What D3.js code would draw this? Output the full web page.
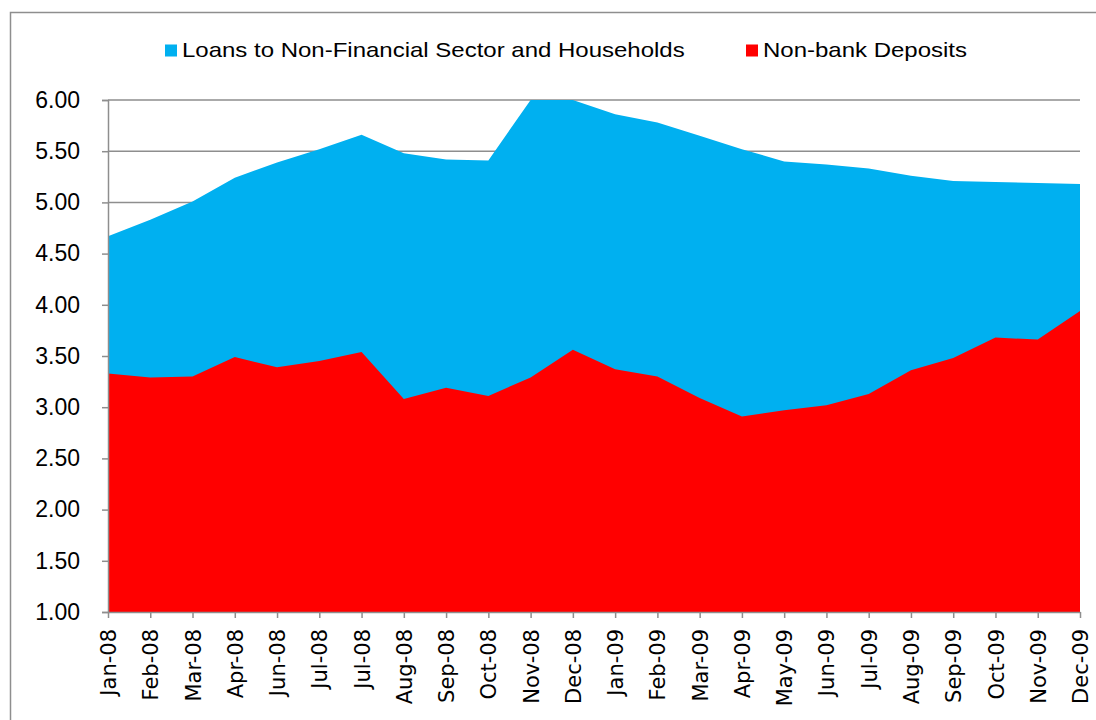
<!DOCTYPE html>
<html>
<head>
<meta charset="utf-8">
<script src="https://cdn.jsdelivr.net/npm/d3@7"></script>
<style>
  body { margin: 0; background: #fff; }
  svg { display: block; }
</style>
</head>
<body>
<svg id="chart" width="1096" height="720"></svg>
<script>
// month labels (Jul-08 really shows up twice on the original)
const months = ["Jan-08", "Feb-08", "Mar-08", "Apr-08", "Jun-08", "Jul-08", "Jul-08", "Aug-08",
    "Sep-08", "Oct-08", "Nov-08", "Dec-08", "Jan-09", "Feb-09", "Mar-09", "Apr-09",
    "May-09", "Jun-09", "Jul-09", "Aug-09", "Sep-09", "Oct-09", "Nov-09", "Dec-09"];
const loans = [4.67, 4.83, 5.01, 5.24, 5.39, 5.52, 5.66, 5.48, 5.42, 5.41, 6.00, 6.00,
    5.86, 5.78, 5.65, 5.52, 5.40, 5.37, 5.33, 5.26, 5.21, 5.20, 5.19, 5.18];
const deposits = [3.33, 3.29, 3.30, 3.49, 3.39, 3.45, 3.54, 3.08, 3.19, 3.11, 3.29, 3.56,
    3.37, 3.30, 3.09, 2.91, 2.97, 3.02, 3.13, 3.36, 3.48, 3.68, 3.66, 3.94];
const yTicks = [1, 1.5, 2, 2.5, 3, 3.5, 4, 4.5, 5, 5.5, 6];
const seriesNames = ["Loans to Non-Financial Sector and Households", "Non-bank Deposits"];
const seriesColors = ["#00B0F0", "#FF0000"];

const svg = d3.select("#chart");
const plotLeft = 108, plotRight = 1080, plotTop = 100, plotBottom = 612;
const gray = "#8e8e8e";

// outer chart frame, runs off the right/bottom of the picture
svg.append("rect")
    .attr("x", 10.5).attr("y", 12.5)
    .attr("width", 1100).attr("height", 720)
    .attr("fill", "none")
    .attr("stroke", gray)
    .attr("stroke-width", 1.5);

const x = d3.scalePoint()
    .domain(d3.range(months.length))
    .range([plotLeft, plotRight]);

const y = d3.scaleLinear()
    .domain([1, 6])
    .range([plotBottom, plotTop]);

// gridlines behind the areas
svg.append("g")
    .selectAll("line")
    .data(yTicks.slice(1))
    .join("line")
    .attr("x1", plotLeft).attr("x2", plotRight)
    .attr("y1", d => y(d)).attr("y2", d => y(d))
    .attr("stroke", gray)
    .attr("stroke-width", 1.5);

const area = d3.area()
    .x((d, i) => x(i))
    .y0(y(1))
    .y1(d => y(d));

svg.append("path")
    .datum(loans)
    .attr("d", area)
    .attr("fill", seriesColors[0]);

svg.append("path")
    .datum(deposits)
    .attr("d", area)
    .attr("fill", seriesColors[1]);

// y axis
const yAxis = svg.append("g")
    .attr("transform", `translate(${plotLeft},0)`)
    .call(d3.axisLeft(y).tickValues(yTicks).tickFormat(d3.format(".2f")).tickSize(6).tickPadding(22));
yAxis.select(".domain").attr("stroke", gray).attr("stroke-width", 1.5);
yAxis.selectAll(".tick line").attr("stroke", gray).attr("stroke-width", 1.5);
yAxis.selectAll(".tick text")
    .attr("font-family", "Liberation Sans, Arial, sans-serif")
    .attr("font-size", 23)
    .attr("fill", "#000");

// x axis
const xAxis = svg.append("g")
    .attr("transform", `translate(0,${plotBottom})`)
    .call(d3.axisBottom(x).tickFormat(i => months[i]).tickSize(6).tickSizeOuter(0));
xAxis.select(".domain").attr("stroke", gray).attr("stroke-width", 1.5);
xAxis.selectAll(".tick line").attr("stroke", gray).attr("stroke-width", 1.5);
xAxis.selectAll(".tick text")
    .attr("font-family", "DejaVu Sans, sans-serif")
    .attr("font-size", 21)
    .attr("fill", "#000")
    .attr("text-anchor", "end")
    .attr("dy", "0.36em")
    .attr("transform", "translate(0,17) rotate(-90)")
    .attr("x", 0).attr("y", 0);

// legend (glyphs a bit wider than the plain font, like the original)
const legendX = [165, 746];
const legend = svg.append("g")
    .selectAll("g")
    .data(seriesNames)
    .join("g")
    .attr("transform", (d, i) => `translate(${legendX[i]},44)`);
legend.append("rect")
    .attr("width", 12).attr("height", 12)
    .attr("y", 0.5)
    .attr("fill", (d, i) => seriesColors[i]);
legend.append("text")
    .attr("transform", "translate(17,13) scale(1.2,1)")
    .attr("font-family", "Liberation Sans, Arial, sans-serif")
    .attr("font-size", 20)
    .attr("fill", "#000")
    .text(d => d);
</script>
</body>
</html>
